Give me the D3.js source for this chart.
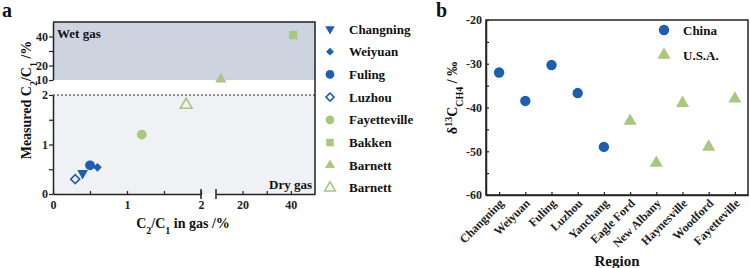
<!DOCTYPE html>
<html>
<head>
<meta charset="utf-8">
<script src="https://cdn.jsdelivr.net/npm/d3@7"></script>
<style>
  body { margin: 0; background: #fff; }
  svg { display: block; font-family: "Liberation Serif", "Times New Roman", serif; font-weight: bold; }
</style>
</head>
<body>
<div id="chart"></div>
<script>
// ---- DATA panel a ----
const aNames = ["Changning", "Weiyuan", "Fuling", "Luzhou", "Fayetteville", "Bakken", "Barnett", "Barnett"];
const aGasRatio = [0.4, 0.6, 0.5, 0.3, 1.2, 41, 11, 1.8];
const aMeasured = [0.42, 0.54, 0.58, 0.3, 1.2, 41, 10.5, 1.8];

// ---- DATA panel b ----
const bRegions = ["Changning", "Weiyuan", "Fuling", "Luzhou", "Yanchang", "Eagle Ford", "New Albany", "Haynesville", "Woodford", "Fayetteville"];
const bChina = [-32, -38.5, -30.3, -36.7, -49, null, null, null, null, null];
const bUSA = [null, null, null, null, null, -43.1, -52.7, -39, -49, -38];

const blue = "#1b5eb2", green = "#a8c87e";
const aStyle = [
  { sym: d3.symbolTriangle, rot: 180, fill: blue, size: 50 },
  { sym: d3.symbolSquare, rot: 45, fill: blue, size: 38 },
  { sym: d3.symbolCircle, rot: 0, fill: blue, size: 75 },
  { sym: d3.symbolSquare, rot: 45, fill: "none", stroke: blue, size: 40 },
  { sym: d3.symbolCircle, rot: 0, fill: green, size: 75 },
  { sym: d3.symbolSquare, rot: 0, fill: green, size: 70 },
  { sym: d3.symbolTriangle, rot: 0, fill: green, size: 55 },
  { sym: d3.symbolTriangle, rot: 0, fill: "none", stroke: green, size: 60 },
];

const svg = d3.select("#chart").append("svg").attr("width", 750).attr("height", 268);

//====== PANEL A ======
const L = 53, R = 315, T = 22, B = 194;
const xLow = d3.scaleLinear([0, 2], [L, 201]);
const xHigh = d3.scaleLinear([9, 50], [216, R]);
const yLow = d3.scaleLinear([0, 2], [B, 95]);
const yHigh = d3.scaleLinear([10, 50], [80, T]);
const px = v => (v <= 2 ? xLow(v) : xHigh(v));
const py = v => (v <= 2 ? yLow(v) : yHigh(v));

// shaded regions
svg.append("rect").attr("x", L).attr("y", T).attr("width", R - L).attr("height", yHigh(10) - T).attr("fill", "#cdd4e0");
svg.append("rect").attr("x", L).attr("y", yLow(2)).attr("width", R - L).attr("height", B - yLow(2)).attr("fill", "#eff1f5");
svg.append("line").attr("x1", L).attr("x2", R).attr("y1", yLow(2)).attr("y2", yLow(2))
  .attr("stroke", "#222").attr("stroke-width", 1).attr("stroke-dasharray", "2,2");

// frame (top + right)
svg.append("path").attr("d", `M${L},${T}H${R}V${B}`).attr("fill", "none").attr("stroke", "#222").attr("stroke-width", 1.5);

function styleAxis(g) {
  g.select(".domain").attr("stroke", "#222").attr("stroke-width", 1.5);
  g.selectAll(".tick line").attr("stroke", "#222").attr("stroke-width", 1.2);
  g.selectAll(".tick text").attr("fill", "#222").style("font-size", "12px").style("font-family", "'Liberation Serif', serif").style("font-weight", "bold");
}
const fmtMajor = keep => d => (keep.includes(d) ? d : "");

// y axes (outward ticks)
svg.append("g").attr("transform", `translate(${L},0)`)
  .call(d3.axisLeft(yHigh).tickValues([10, 20, 30, 40]).tickFormat(fmtMajor([10, 20, 40])).tickSize(4).tickSizeOuter(0).tickPadding(1))
  .call(styleAxis);
svg.append("g").attr("transform", `translate(${L},0)`)
  .call(d3.axisLeft(yLow).tickValues([0, 0.5, 1, 1.5, 2]).tickFormat(fmtMajor([0, 1, 2])).tickSize(4).tickSizeOuter(0).tickPadding(1))
  .call(styleAxis);

// x axes (inward ticks)
svg.append("g").attr("transform", `translate(0,${B})`)
  .call(d3.axisBottom(xLow).tickValues([0, 0.5, 1, 1.5, 2]).tickFormat(fmtMajor([0, 1, 2])).tickSize(-3).tickSizeOuter(0).tickPadding(6))
  .call(styleAxis);
svg.append("g").attr("transform", `translate(0,${B})`)
  .call(d3.axisBottom(xHigh).tickValues([20, 30, 40]).tickFormat(fmtMajor([20, 40])).tickSize(-3).tickSizeOuter(0).tickPadding(6))
  .call(styleAxis);
// break marks
[xLow(2), xHigh(9)].forEach(x => {
  svg.append("line").attr("x1", x).attr("x2", x).attr("y1", B - 5).attr("y2", B + 5).attr("stroke", "#222").attr("stroke-width", 1.5);
});

// region labels
svg.append("text").attr("x", L + 4).attr("y", 38).style("font-size", "13px").attr("fill", "#111").text("Wet gas");
svg.append("text").attr("x", R - 3).attr("y", 189).attr("text-anchor", "end").style("font-size", "13px").attr("fill", "#111").text("Dry gas");

// points
svg.append("g").selectAll("path").data(aNames.map((n, i) => i)).join("path")
  .attr("d", i => d3.symbol().type(aStyle[i].sym).size(aStyle[i].size)())
  .attr("transform", i => `translate(${px(aGasRatio[i])},${py(aMeasured[i])}) rotate(${aStyle[i].rot})`)
  .attr("fill", i => aStyle[i].fill)
  .attr("stroke", i => aStyle[i].stroke || "none")
  .attr("stroke-width", 1.6);

// legend
const lg = svg.append("g").attr("transform", "translate(330,29)");
const lgItem = lg.selectAll("g").data(aNames.map((n, i) => i)).join("g")
  .attr("transform", i => `translate(0,${i * 22.7})`);
lgItem.append("path")
  .attr("d", i => d3.symbol().type(aStyle[i].sym).size(aStyle[i].size * 0.8)())
  .attr("transform", i => `rotate(${aStyle[i].rot})`)
  .attr("fill", i => aStyle[i].fill)
  .attr("stroke", i => aStyle[i].stroke || "none")
  .attr("stroke-width", 1.6);
lgItem.append("text").attr("x", 19).attr("dy", "0.35em").style("font-size", "13px").attr("fill", "#111")
  .text(i => aNames[i]);

// titles
svg.append("text").attr("x", 2).attr("y", 17).style("font-size", "20px").attr("fill", "#111").text("a");
const ayl = svg.append("text").attr("transform", "translate(31,100) rotate(-90)").attr("text-anchor", "middle")
  .style("font-size", "14px").attr("fill", "#111");
ayl.append("tspan").text("Measured C");
ayl.append("tspan").attr("baseline-shift", "sub").style("font-size", "10px").text("2");
ayl.append("tspan").text("/C");
ayl.append("tspan").attr("baseline-shift", "sub").style("font-size", "10px").text("1");
ayl.append("tspan").text(" /%");
const axl = svg.append("text").attr("x", 183).attr("y", 228).attr("text-anchor", "middle")
  .style("font-size", "14px").attr("fill", "#111");
axl.append("tspan").text("C");
axl.append("tspan").attr("baseline-shift", "sub").style("font-size", "10px").text("2");
axl.append("tspan").text("/C");
axl.append("tspan").attr("baseline-shift", "sub").style("font-size", "10px").text("1");
axl.append("tspan").text(" in gas /%");

//====== PANEL B ======
const bL = 486, bR = 748, bT = 20, bB = 195;
const xb = d3.scalePoint().domain(bRegions).range([bL, bR]).padding(0.5);
const yb = d3.scaleLinear([-60, -20], [bB, bT]);

svg.append("rect").attr("x", bL).attr("y", bT).attr("width", bR - bL).attr("height", bB - bT)
  .attr("fill", "none").attr("stroke", "#222").attr("stroke-width", 1.5);

svg.append("g").attr("transform", `translate(${bL},0)`)
  .call(d3.axisLeft(yb).tickValues(d3.range(-60, -19, 5)).tickFormat(d => (d % 10 === 0 ? String(d) : "")).tickSize(-3).tickSizeOuter(0).tickPadding(4))
  .call(styleAxis);
const gxb = svg.append("g").attr("transform", `translate(0,${bB})`)
  .call(d3.axisBottom(xb).tickSize(-3).tickSizeOuter(0))
  .call(styleAxis);
gxb.selectAll(".tick text").attr("text-anchor", "end").attr("dy", null).attr("y", 0)
  .attr("transform", "translate(5,9) rotate(-45)").style("font-size", "12px");

svg.append("g").selectAll("circle").data(bRegions.filter((r, i) => bChina[i] != null)).join("circle")
  .attr("cx", r => xb(r)).attr("cy", r => yb(bChina[bRegions.indexOf(r)])).attr("r", 5.2).attr("fill", blue);
svg.append("g").selectAll("path").data(bRegions.filter((r, i) => bUSA[i] != null)).join("path")
  .attr("d", d3.symbol().type(d3.symbolTriangle).size(75)())
  .attr("transform", r => `translate(${xb(r)},${yb(bUSA[bRegions.indexOf(r)])})`).attr("fill", green);

// legend b
svg.append("circle").attr("cx", 664).attr("cy", 30).attr("r", 5.2).attr("fill", blue);
svg.append("text").attr("x", 683).attr("y", 30).attr("dy", "0.35em").style("font-size", "13px").attr("fill", "#111").text("China");
svg.append("path").attr("d", d3.symbol().type(d3.symbolTriangle).size(75)()).attr("transform", "translate(664,55)").attr("fill", green);
svg.append("text").attr("x", 683).attr("y", 55).attr("dy", "0.35em").style("font-size", "13px").attr("fill", "#111").text("U.S.A.");

svg.append("text").attr("x", 436).attr("y", 17).style("font-size", "20px").attr("fill", "#111").text("b");
svg.append("text").attr("x", 617).attr("y", 266).attr("text-anchor", "middle").style("font-size", "15px").attr("fill", "#111").text("Region");
const byl = svg.append("text").attr("transform", "translate(457,98) rotate(-90)").attr("text-anchor", "middle")
  .style("font-size", "14px").attr("fill", "#111");
byl.append("tspan").text("δ");
byl.append("tspan").attr("baseline-shift", "super").style("font-size", "10px").text("13");
byl.append("tspan").text("C");
byl.append("tspan").attr("baseline-shift", "sub").style("font-size", "10px").text("CH4");
byl.append("tspan").text(" / ‰");
</script>
</body>
</html>
